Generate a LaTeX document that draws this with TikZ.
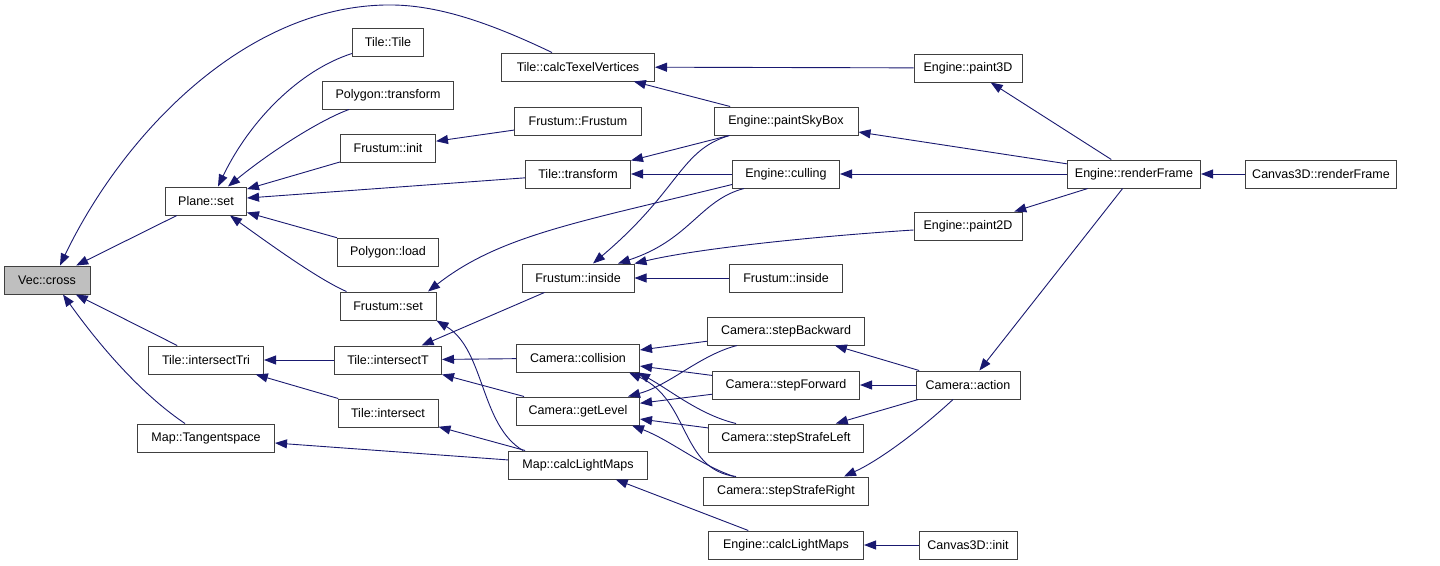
\documentclass[tikz,border=0pt]{standalone}
\usepackage{fontspec}
\setmainfont{Liberation Sans}
\usepackage{xcolor}
\usepackage{tikz}
\usetikzlibrary{arrows.meta}
\definecolor{edgeblue}{HTML}{191970}
\definecolor{focusgray}{HTML}{BFBFBF}

\begin{document}
\begin{tikzpicture}[
    x=1pt, y=-1pt,
    box/.style={rectangle, draw=black!75, line width=1pt, fill=white, minimum height=28pt, inner sep=2pt, font=\fontsize{12.5}{14}\selectfont},
    arrow/.style={-{Triangle[length=12pt,width=9pt]}, edgeblue, line width=0.9pt}
]
\useasboundingbox (0,0) rectangle (1440,565);

\node[box, minimum width=86pt, fill=focusgray] (cross) at (47,280) {Vec::cross};
\node[box, minimum width=81pt] (planeset) at (206,201) {Plane::set};
\node[box, minimum width=115pt] (inttri) at (206,360) {Tile::intersectTri};
\node[box, minimum width=137pt] (tangent) at (206,438) {Map::Tangentspace};

\node[box, minimum width=71pt] (tiletile) at (388,42) {Tile::Tile};
\node[box, minimum width=131pt] (polytrans) at (388,95) {Polygon::transform};
\node[box, minimum width=95pt] (frusinit) at (388,148) {Frustum::init};
\node[box, minimum width=101pt] (polyload) at (388,252) {Polygon::load};
\node[box, minimum width=96pt] (frusset) at (388,306) {Frustum::set};
\node[box, minimum width=107pt] (intT) at (388,360) {Tile::intersectT};
\node[box, minimum width=100pt] (intsect) at (388,413) {Tile::intersect};

\node[box, minimum width=153pt] (texel) at (578,67) {Tile::calcTexelVertices};
\node[box, minimum width=127pt] (frustum) at (578,121) {Frustum::Frustum};
\node[box, minimum width=105pt] (tiletrans) at (578,174) {Tile::transform};
\node[box, minimum width=112pt] (inside) at (578,278) {Frustum::inside};
\node[box, minimum width=123pt] (collision) at (578,358) {Camera::collision};
\node[box, minimum width=123pt] (getlevel) at (578,411) {Camera::getLevel};
\node[box, minimum width=139pt] (maplight) at (578,465) {Map::calcLightMaps};

\node[box, minimum width=144pt] (paintsky) at (786,121) {Engine::paintSkyBox};
\node[box, minimum width=107pt] (culling) at (786,174) {Engine::culling};
\node[box, minimum width=113pt] (insidetwo) at (786,278) {Frustum::inside};
\node[box, minimum width=157pt] (stepback) at (786,331) {Camera::stepBackward};
\node[box, minimum width=147pt] (stepfwd) at (786,385) {Camera::stepForward};
\node[box, minimum width=155pt] (strafel) at (786,438) {Camera::stepStrafeLeft};
\node[box, minimum width=165pt] (strafer) at (786,491) {Camera::stepStrafeRight};
\node[box, minimum width=155pt] (englight) at (786,545) {Engine::calcLightMaps};

\node[box, minimum width=108pt] (paint3d) at (968,68) {Engine::paint3D};
\node[box, minimum width=108pt] (paint2d) at (968,226) {Engine::paint2D};
\node[box, minimum width=104pt] (action) at (968,385) {Camera::action};
\node[box, minimum width=98pt] (canvinit) at (968,545) {Canvas3D::init};

\node[box, minimum width=133pt] (render) at (1134,174) {Engine::renderFrame};
\node[box, minimum width=151pt] (canvrender) at (1321,174) {Canvas3D::renderFrame};

\draw[arrow] (planeset) -- (cross);
\draw[arrow] (inttri) -- (cross);
\draw[arrow] ([xshift=-26pt]texel.north) .. controls (480,18) and (430,4) .. (385,5)
    .. controls (240,8) and (120,140) .. ([xshift=13pt]cross.north);
\draw[arrow] ([xshift=-21pt]tangent.north) .. controls (150,400) and (110,360) .. ([xshift=16pt]cross.south);

\draw[arrow] ([yshift=3pt]tiletile.south west) .. controls (300,70) and (250,120) .. ([xshift=12pt]planeset.north);
\draw[arrow] ([xshift=27pt]polytrans.south west) .. controls (320,120) and (270,152) .. ([xshift=22pt]planeset.north);
\draw[arrow] (frusinit) -- (planeset);
\draw[arrow] (tiletrans) -- (planeset);
\draw[arrow] (polyload) -- (planeset);
\draw[arrow] ([xshift=7pt]frusset.north west) .. controls (320,280) and (275,248) .. ([xshift=24pt]planeset.south);

\draw[arrow] (intT) -- (inttri);
\draw[arrow] (intsect) -- (inttri);
\draw[arrow] (maplight) -- (tangent);

\draw[arrow] (frustum) -- (frusinit);
\draw[arrow] ([yshift=4pt]culling.south west) .. controls (580,222) and (500,235) .. ([xshift=40pt]frusset.north);
\draw[arrow] ([xshift=15pt]maplight.north west) .. controls (480,425) and (485,350) .. (frusset.south east);
\draw[arrow] (inside) -- (intT);
\draw[arrow] (collision) -- (intT);
\draw[arrow] (getlevel) -- (intT);
\draw[arrow] (maplight) -- (intsect);

\draw[arrow] (paintsky) -- (texel);
\draw[arrow] (paint3d) -- (texel);
\draw[arrow] (paintsky) -- (tiletrans);
\draw[arrow] (culling) -- (tiletrans);
\draw[arrow] ([xshift=16pt]paintsky.south west) .. controls (680,150) and (680,190) .. ([xshift=15pt]inside.north);
\draw[arrow] ([xshift=12pt]culling.south west) .. controls (700,200) and (690,240) .. ([xshift=40pt]inside.north);
\draw[arrow] ([yshift=-4pt]paint2d.west) .. controls (820,236) and (700,248) .. (inside.north east);
\draw[arrow] (insidetwo) -- (inside);

\draw[arrow] (stepback) -- (collision);
\draw[arrow] (stepfwd) -- (collision);
\draw[arrow] ([xshift=28pt]strafel.north west) .. controls (700,415) and (670,390) .. ([xshift=-2pt]collision.south east);
\draw[arrow] ([xshift=33pt]strafer.north west) .. controls (680,470) and (690,400) .. ([xshift=-11pt]collision.south east);
\draw[arrow] ([xshift=30pt]stepback.south west) .. controls (700,355) and (670,385) .. ([xshift=-12pt]getlevel.north east);
\draw[arrow] (stepfwd) -- (getlevel);
\draw[arrow] (strafel) -- (getlevel);
\draw[arrow] ([xshift=31pt]strafer.north west) .. controls (700,465) and (670,440) .. ([xshift=-8pt]getlevel.south east);
\draw[arrow] (englight) -- (maplight);

\draw[arrow] (render) -- (paint3d);
\draw[arrow] (render) -- (paintsky);
\draw[arrow] (render) -- (culling);
\draw[arrow] (render) -- (paint2d);
\draw[arrow] (render) -- (action);
\draw[arrow] (canvrender) -- (render);

\draw[arrow] (action) -- (stepback);
\draw[arrow] (action) -- (stepfwd);
\draw[arrow] (action) -- (strafel);
\draw[arrow] ([xshift=-15pt]action.south) .. controls (920,430) and (880,460) .. ([xshift=-25pt]strafer.north east);
\draw[arrow] (canvinit) -- (englight);
\end{tikzpicture}
\end{document}
